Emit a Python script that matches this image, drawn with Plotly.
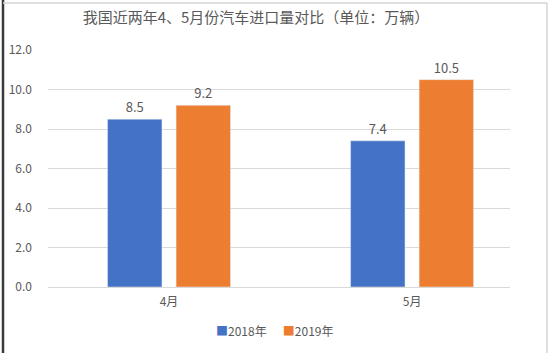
import plotly.graph_objects as go

categories = ["4月", "5月"]
years = ["2018年", "2019年"]
values_2018 = [8.5, 7.4]
values_2019 = [9.2, 10.5]
tick_vals = [0, 2, 4, 6, 8, 10, 12]
tick_text = ["0.0", "2.0", "4.0", "6.0", "8.0", "10.0", "12.0"]
title = "我国近两年4、5月份汽车进口量对比（单位：万辆）"

FONT = "Noto Sans CJK SC, Microsoft YaHei, sans-serif"
GRAY = "#595959"
BLUE = "#4472C4"
ORANGE = "#ED7D31"

W, H = 550, 353
L, R, T, B = 48, 40, 50, 66
pw = W - L - R
ph = H - T - B

def px_x(p):
    return (p - L) / pw

def px_y(p):
    return (H - B - p) / ph

fig = go.Figure()
fig.add_trace(go.Bar(
    x=[0, 1], y=values_2018, name=years[0], marker_color=BLUE,
    width=0.224, offset=-0.253,
    text=[f"{v:.1f}" for v in values_2018], textposition="outside",
    textfont=dict(size=13, color=GRAY, family=FONT), cliponaxis=False,
))
fig.add_trace(go.Bar(
    x=[0, 1], y=values_2019, name=years[1], marker_color=ORANGE,
    width=0.224, offset=0.029,
    text=[f"{v:.1f}" for v in values_2019], textposition="outside",
    textfont=dict(size=13, color=GRAY, family=FONT), cliponaxis=False,
))

shapes = [
    dict(type="line", xref="paper", yref="paper", x0=px_x(3), x1=px_x(3), y0=px_y(0), y1=px_y(353),
         line=dict(color="#3a3a3a", width=2.5)),
    dict(type="line", xref="paper", yref="paper", x0=px_x(3), x1=px_x(547), y0=px_y(3), y1=px_y(3),
         line=dict(color="#d4d4d4", width=1.5)),
    dict(type="line", xref="paper", yref="paper", x0=px_x(547), x1=px_x(547), y0=px_y(3), y1=px_y(353),
         line=dict(color="#d4d4d4", width=1.5)),
]

legend_text = (f'<span style="color:{BLUE}">■</span>{years[0]}'
               f'&nbsp;&nbsp;&nbsp;&nbsp;&nbsp;&nbsp;<span style="color:{ORANGE}">■</span>{years[1]}')
annotations = [
    dict(text=legend_text, xref="paper", yref="paper", x=px_x(274), y=px_y(330),
         xanchor="center", yanchor="middle", showarrow=False,
         font=dict(size=12, color=GRAY, family=FONT)),
]

fig.update_layout(
    width=W, height=H,
    margin=dict(l=L, r=R, t=T, b=B, autoexpand=False),
    paper_bgcolor="white", plot_bgcolor="white",
    barmode="overlay",
    font=dict(family=FONT, color=GRAY, size=12),
    title=dict(text=title, x=px_x(256), xanchor="center", xref="paper",
               y=1 - 18 / H, yanchor="middle",
               font=dict(size=15, color=GRAY, family=FONT)),
    xaxis=dict(range=[-0.498, 1.403], tickvals=[0, 1], ticktext=categories,
               showgrid=False, zeroline=False, showline=False, automargin=False,
               tickfont=dict(size=12, color=GRAY), ticks="", ticklen=0,
               ticklabelstandoff=6),
    yaxis=dict(range=[0, 12], tickvals=tick_vals, ticktext=tick_text,
               showgrid=True, gridcolor="#D9D9D9", gridwidth=1, automargin=False,
               zeroline=True, zerolinecolor="#D9D9D9", zerolinewidth=1,
               showline=False, tickfont=dict(size=12, color=GRAY), ticks="",
               ticklabelstandoff=15),
    annotations=annotations,
    shapes=shapes,
    showlegend=False,
)

fig.write_html("out.html")
